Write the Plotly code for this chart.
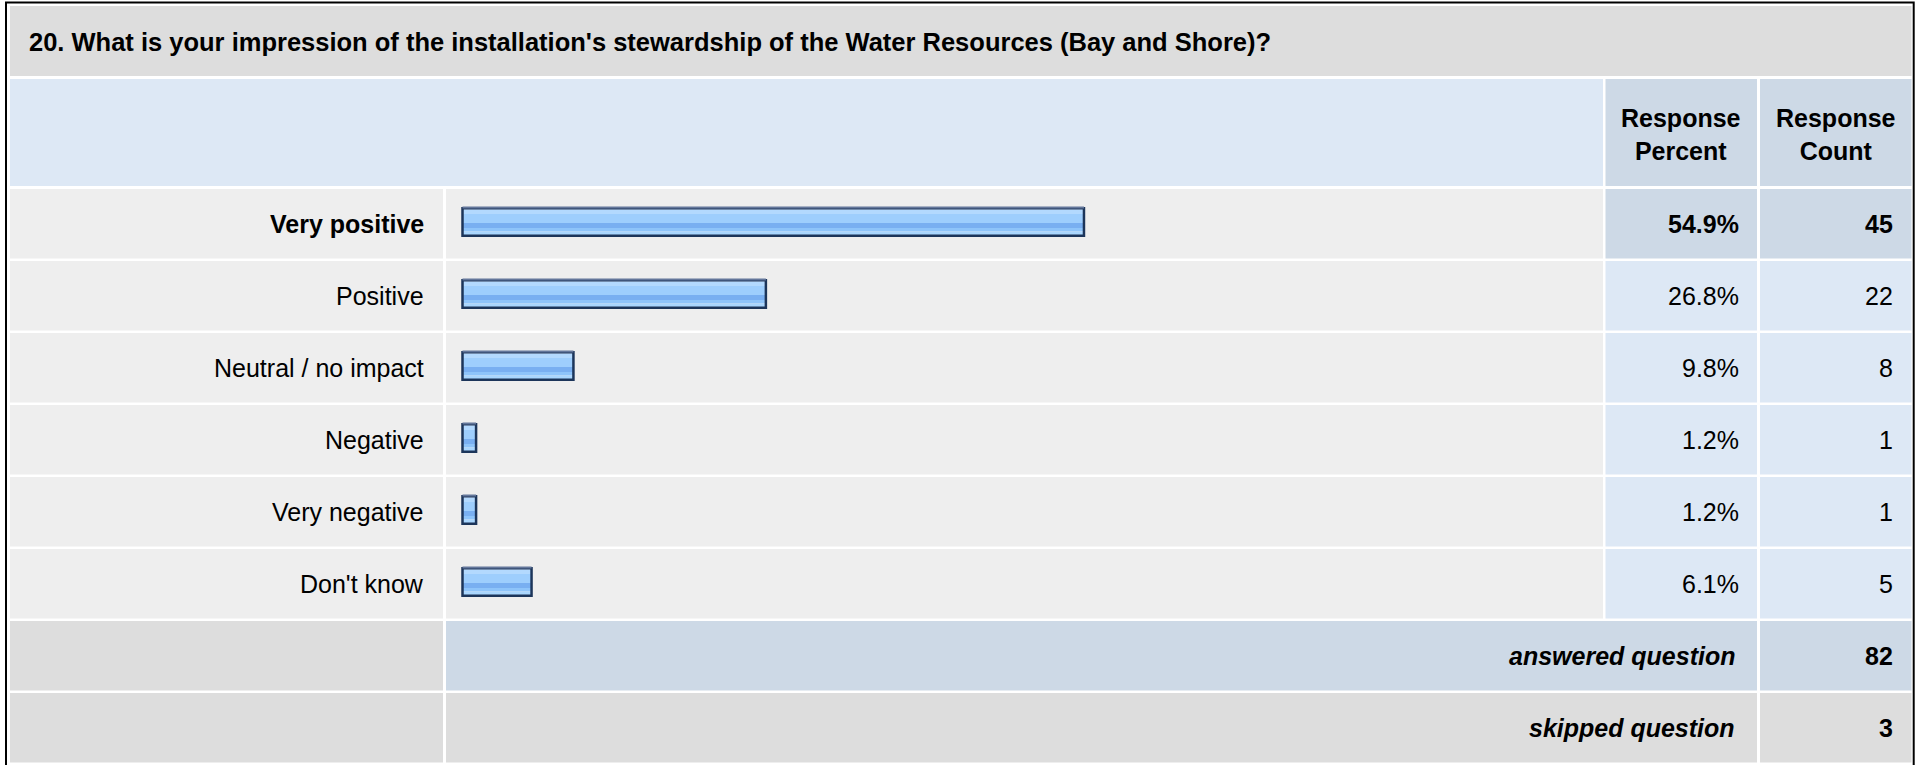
import plotly.graph_objects as go

# ---------------- data ----------------
categories = ["Very positive", "Positive", "Neutral / no impact", "Negative", "Very negative", "Don't know"]
percents = [54.9, 26.8, 9.8, 1.2, 1.2, 6.1]
counts = [45, 22, 8, 1, 1, 5]
answered_count = 82
skipped_count = 3
title_text = "20. What is your impression of the installation's stewardship of the Water Resources (Bay and Shore)?"
header_pct = "Response<br>Percent"
header_cnt = "Response<br>Count"
answered_label = "answered question"
skipped_label = "skipped question"

# ---------------- layout constants (pixels) ----------------
W, H = 1917, 765
FONT = "Liberation Sans, Arial, Helvetica, sans-serif"
FS = 25
FS_TITLE = 25.5

def px(x):
    return x / W

def py(y):
    return 1 - y / H

ROW_TOP0, ROW_PITCH, ROW_H = 189, 72, 69.5
COL_LABEL = (10, 443)
COL_BAR = (446, 1603)
COL_PCT = (1605.5, 1757)
COL_CNT = (1760, 1911.5)
INNER_R = 1911.5

GRAY = "#dddddd"
LIGHT = "#eeeeee"
BLUE_L = "#dde8f5"
BLUE_D = "#cdd9e6"

n = len(categories)
hi = percents.index(max(percents))

shapes = []

def rect(x0, x1, y0, y1, color):
    shapes.append(dict(type="rect", xref="paper", yref="paper",
                       x0=px(x0), x1=px(x1), y0=py(y1), y1=py(y0),
                       fillcolor=color, line=dict(width=0), layer="below"))

# title band
rect(10, INNER_R, 6, 76, GRAY)
# header band
rect(10, COL_BAR[1], 79, 186, BLUE_L)
rect(COL_PCT[0], COL_PCT[1], 79, 186, BLUE_D)
rect(COL_CNT[0], COL_CNT[1], 79, 186, BLUE_D)
# data rows
for i in range(n):
    t = ROW_TOP0 + ROW_PITCH * i
    b = t + ROW_H
    rect(COL_LABEL[0], COL_LABEL[1], t, b, LIGHT)
    rect(COL_BAR[0], COL_BAR[1], t, b, LIGHT)
    c = BLUE_D if i == hi else BLUE_L
    rect(COL_PCT[0], COL_PCT[1], t, b, c)
    rect(COL_CNT[0], COL_CNT[1], t, b, c)
# answered row
t_ans = ROW_TOP0 + ROW_PITCH * n
rect(COL_LABEL[0], COL_LABEL[1], t_ans, t_ans + ROW_H, GRAY)
rect(COL_BAR[0], COL_PCT[1], t_ans, t_ans + ROW_H, BLUE_D)
rect(COL_CNT[0], COL_CNT[1], t_ans, t_ans + ROW_H, BLUE_D)
# skipped row
t_sk = t_ans + ROW_PITCH
rect(COL_LABEL[0], COL_LABEL[1], t_sk, t_sk + ROW_H, GRAY)
rect(COL_BAR[0], COL_PCT[1], t_sk, t_sk + ROW_H, GRAY)
rect(COL_CNT[0], COL_CNT[1], t_sk, t_sk + ROW_H, GRAY)
# outer black border
shapes.append(dict(type="rect", xref="paper", yref="paper",
                   x0=px(6), x1=px(1913.7), y0=py(800), y1=py(2.5),
                   line=dict(color="#000000", width=2), fillcolor="rgba(0,0,0,0)", layer="above"))

# ---------------- bars (striped gradient look) ----------------
fig = go.Figure()
BAR_TOP = -16.5   # px relative to row centre
BAR_HT = 30
stripes = [
    (0, 3, "#c9e3fc"),
    (3, 7, "#b3d9fe"),
    (7, 16, "#9ecefd"),
    (16, 21, "#79aff1"),
    (21, 24.5, "#8ec4fa"),
    (24.5, 30, "#a9d6fe"),
]
for (s0, s1, col) in stripes:
    fig.add_trace(go.Bar(
        y=categories, x=percents, orientation="h",
        width=(s1 - s0) / ROW_PITCH, offset=(BAR_TOP + s0) / ROW_PITCH,
        marker=dict(color=col, line=dict(width=0)),
        showlegend=False, hoverinfo="skip"))
LW = 2.5
fig.add_trace(go.Bar(
    y=categories, x=percents, orientation="h",
    width=(BAR_HT - LW) / ROW_PITCH, offset=(BAR_TOP + LW / 2) / ROW_PITCH,
    marker=dict(color="rgba(0,0,0,0)", line=dict(width=LW, color="#1c355a")),
    showlegend=False, hoverinfo="skip"))
fig.add_trace(go.Bar(
    y=categories, x=percents, orientation="h",
    width=1.2 / ROW_PITCH, offset=(BAR_TOP) / ROW_PITCH,
    marker=dict(color="#63769a", line=dict(width=0)),
    showlegend=False, hoverinfo="skip"))

# axes mapping: value 0 -> px 462.5, ~11.32 px per percent
X0, SCALE = 462.5, 11.32
xr = [-(X0 - COL_BAR[0]) / SCALE, (COL_BAR[1] - X0) / SCALE]
y_top = ROW_TOP0 - 1.5
y_bot = y_top + ROW_PITCH * n

# ---------------- text ----------------
ann = []
base_font = dict(family=FONT, size=FS, color="#000000")
ann.append(dict(text="<b>" + title_text + "</b>", xref="paper", yref="paper",
                x=px(27), y=py(42), xanchor="left", yanchor="middle",
                showarrow=False, font=dict(family=FONT, size=FS_TITLE, color="#000000")))
for txt, cx in ((header_pct, (COL_PCT[0] + COL_PCT[1]) / 2), (header_cnt, (COL_CNT[0] + COL_CNT[1]) / 2)):
    ann.append(dict(text="<b>" + txt + "</b>", xref="paper", yref="paper",
                    x=px(cx), y=py(134), xanchor="center", yanchor="middle", align="center",
                    showarrow=False, font=base_font))
for i, (cat, p, c) in enumerate(zip(categories, percents, counts)):
    b0, b1 = ("<b>", "</b>") if i == hi else ("", "")
    ann.append(dict(text=b0 + cat + b1, xref="paper", yref="y", x=px(426), y=cat,
                    xanchor="right", yanchor="middle", showarrow=False, font=base_font))
    ann.append(dict(text=b0 + f"{p:.1f}%" + b1, xref="paper", yref="y", x=px(1741), y=cat,
                    xanchor="right", yanchor="middle", showarrow=False, font=base_font))
    ann.append(dict(text=b0 + f"{c}" + b1, xref="paper", yref="y", x=px(1895), y=cat,
                    xanchor="right", yanchor="middle", showarrow=False, font=base_font))
for lab, val, t in ((answered_label, answered_count, t_ans), (skipped_label, skipped_count, t_sk)):
    cy = t + ROW_H / 2
    ann.append(dict(text="<b><i>" + lab + "</i></b>", xref="paper", yref="paper",
                    x=px(1737), y=py(cy), xanchor="right", yanchor="middle",
                    showarrow=False, font=base_font))
    ann.append(dict(text=f"<b>{val}</b>", xref="paper", yref="paper",
                    x=px(1895), y=py(cy), xanchor="right", yanchor="middle",
                    showarrow=False, font=base_font))

fig.update_layout(
    width=W, height=H,
    margin=dict(l=0, r=0, t=0, b=0),
    paper_bgcolor="#ffffff", plot_bgcolor="rgba(0,0,0,0)",
    barmode="overlay",
    shapes=shapes, annotations=ann,
    font=dict(family=FONT, size=FS, color="#000000"),
    xaxis=dict(domain=[px(COL_BAR[0]), px(COL_BAR[1])], range=xr,
               showgrid=False, zeroline=False, showticklabels=False, showline=False,
               ticks="", fixedrange=True),
    yaxis=dict(domain=[py(y_bot), py(y_top)], type="category",
               categoryorder="array", categoryarray=categories,
               range=[n - 0.5, -0.5],
               showgrid=False, zeroline=False, showticklabels=False, showline=False,
               ticks="", fixedrange=True),
)

fig.write_html("out.html", config={"displayModeBar": False},
               post_script="document.body.style.margin='0';document.body.style.overflow='hidden';")
